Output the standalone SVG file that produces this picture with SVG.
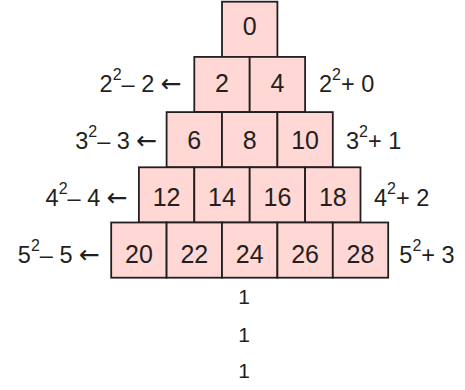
<svg xmlns="http://www.w3.org/2000/svg" width="465" height="390" viewBox="0 0 465 390">
<style>
.c rect{fill:#FFD7D4;stroke:#231F20;stroke-width:1.8}
text{font-family:"Liberation Sans","DejaVu Sans",sans-serif;fill:#231F20}
.n{font-size:25px;text-anchor:middle}
.l{font-size:23.5px}
.e{text-anchor:end}
.s{font-size:16px}
.o{font-size:21px;text-anchor:middle}
.a{font-family:"DejaVu Sans",sans-serif;font-size:25px}
</style>
<rect width="465" height="390" fill="#fff"/>
<g id="connectors"></g>
<g id="row0" class="c">
<rect x="222" y="1.7" width="55.4" height="55.2"/>
<text class="n" x="249.7" y="34.5">0</text>
</g>
<g id="row1" class="c">
<rect x="194.3" y="56.9" width="55.4" height="55.2"/>
<rect x="249.7" y="56.9" width="55.4" height="55.2"/>
<text class="n" x="222" y="92">2</text>
<text class="n" x="277.4" y="92">4</text>
</g>
<g id="row2" class="c">
<rect x="166.6" y="112.1" width="55.4" height="55.2"/>
<rect x="222" y="112.1" width="55.4" height="55.2"/>
<rect x="277.4" y="112.1" width="55.4" height="55.2"/>
<text class="n" x="194.3" y="149">6</text>
<text class="n" x="249.7" y="149">8</text>
<text class="n" x="305.1" y="149">10</text>
</g>
<g id="row3" class="c">
<rect x="138.9" y="167.3" width="55.4" height="55.2"/>
<rect x="194.3" y="167.3" width="55.4" height="55.2"/>
<rect x="249.7" y="167.3" width="55.4" height="55.2"/>
<rect x="305.1" y="167.3" width="55.4" height="55.2"/>
<text class="n" x="166.6" y="206">12</text>
<text class="n" x="222" y="206">14</text>
<text class="n" x="277.4" y="206">16</text>
<text class="n" x="332.8" y="206">18</text>
</g>
<g id="row4" class="c">
<rect x="111.2" y="222.5" width="55.4" height="55.2"/>
<rect x="166.6" y="222.5" width="55.4" height="55.2"/>
<rect x="222" y="222.5" width="55.4" height="55.2"/>
<rect x="277.4" y="222.5" width="55.4" height="55.2"/>
<rect x="332.8" y="222.5" width="55.4" height="55.2"/>
<text class="n" x="138.9" y="263">20</text>
<text class="n" x="194.3" y="263">22</text>
<text class="n" x="249.7" y="263">24</text>
<text class="n" x="305.1" y="263">26</text>
<text class="n" x="360.5" y="263">28</text>
</g>
<g id="left-labels">
<text class="l e" x="181.7" y="92">2<tspan class="s" dy="-12">2</tspan><tspan dy="12">– 2 </tspan><tspan class="a">←</tspan></text>
<text class="l e" x="157.3" y="149">3<tspan class="s" dy="-12">2</tspan><tspan dy="12">– 3 </tspan><tspan class="a">←</tspan></text>
<text class="l e" x="127.7" y="206">4<tspan class="s" dy="-12">2</tspan><tspan dy="12">– 4 </tspan><tspan class="a">←</tspan></text>
<text class="l e" x="100" y="263">5<tspan class="s" dy="-12">2</tspan><tspan dy="12">– 5 </tspan><tspan class="a">←</tspan></text>
</g>
<g id="right-labels">
<text class="l" x="319" y="92">2<tspan class="s" dy="-12">2</tspan><tspan dy="12">+ 0</tspan></text>
<text class="l" x="346" y="149">3<tspan class="s" dy="-12">2</tspan><tspan dy="12">+ 1</tspan></text>
<text class="l" x="374" y="206">4<tspan class="s" dy="-12">2</tspan><tspan dy="12">+ 2</tspan></text>
<text class="l" x="399.3" y="263">5<tspan class="s" dy="-12">2</tspan><tspan dy="12">+ 3</tspan></text>
</g>
<g id="ones">
<text class="o" x="244" y="304">1</text>
<text class="o" x="244" y="341.5">1</text>
<text class="o" x="244" y="378">1</text>
</g>
</svg>
